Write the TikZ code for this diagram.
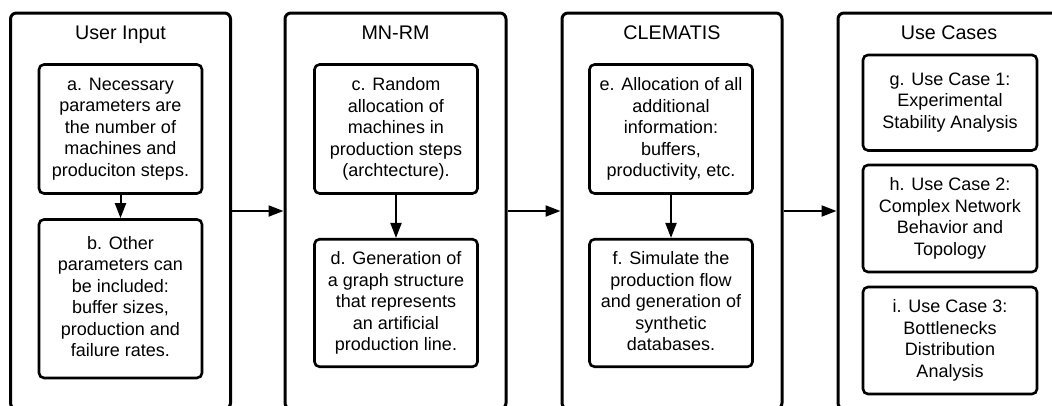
\documentclass[tikz,border=0pt]{standalone}
\usepackage{fontspec}
\setmainfont{Liberation Sans}
\usetikzlibrary{arrows.meta}
\begin{document}
\begin{tikzpicture}[x=1pt,y=-1pt,
  panel/.style={draw, line width=3pt, rounded corners=6pt, inner sep=0pt,
    minimum height=396pt},
  % uniform line boxes: fixed ascent on the first line, fixed depth on the last
  stagebox/.style={draw, line width=2.6pt, rounded corners=5pt, inner sep=0pt,
    align=center, minimum width=163pt,
    font=\fontsize{18}{21.5}\selectfont,
    execute at begin node={\rule{0pt}{17.5pt}},
    execute at end node={\rule[-4pt]{0pt}{4pt}}},
  ttl/.style={anchor=base, inner sep=0pt, font=\fontsize{19.7}{23}\selectfont},
  arr/.style={line width=2pt, -{Triangle[length=15pt,width=11pt]}}]
\useasboundingbox (0,0) rectangle (1052,405);
\clip (0,0) rectangle (1052,405);

% stage panels
\node[panel, minimum width=220pt] (p1) at (120.5,211) {};
\node[panel, minimum width=221pt] (p2) at (395.5,211) {};
\node[panel, minimum width=220pt] (p3) at (672,211) {};
\node[panel, minimum width=222pt] (p4) at (949,211) {};

% panel titles
\node[ttl] (t1) at (120.5,39.5) {User Input};
\node[ttl] (t2) at (395.5,39.5) {MN-RM};
\node[ttl] (t3) at (672,39.5) {CLEMATIS};
\node[ttl] (t4) at (949,39.5) {Use Cases};

% user input
\node[stagebox, minimum height=129pt] (a) at (120.5,129)
  {a. Necessary\\parameters are\\the number of\\machines and\\produciton steps.};
\node[stagebox, minimum height=158.5pt] (b) at (120.5,298.7)
  {b. Other\\parameters can\\be included:\\buffer sizes,\\production and\\failure rates.};

% MN-RM
\node[stagebox, minimum height=129pt] (c) at (396,129)
  {c. Random\\allocation of\\machines in\\production steps\\(archtecture).};
\node[stagebox, minimum height=127.5pt] (d) at (396,303)
  {d. Generation of\\a graph structure\\that represents\\an artificial\\production line.};

% CLEMATIS
\node[stagebox, minimum height=129pt] (e) at (671,129)
  {e. Allocation of all\\additional\\information:\\buffers,\\productivity, etc.};
\node[stagebox, minimum height=127.5pt] (f) at (671,303)
  {f. Simulate the\\production flow\\and generation of\\synthetic\\databases.};

% use cases
\node[stagebox, minimum width=174pt, minimum height=95.5pt] (g) at (950,102.7)
  {g. Use Case 1:\\Experimental\\Stability Analysis};
\node[stagebox, minimum width=174pt, minimum height=107pt] (h) at (950,218.5)
  {h. Use Case 2:\\Complex Network\\Behavior and\\Topology};
\node[stagebox, minimum width=174pt, minimum height=107pt] (i) at (950,340.5)
  {i. Use Case 3:\\Bottlenecks\\Distribution\\Analysis};

% flow
\draw[arr] (a) -- (b);
\draw[arr] (c) -- (d);
\draw[arr] (e) -- (f);
\draw[arr] (p1) -- (p2);
\draw[arr] (p2) -- (p3);
\draw[arr] (p3) -- (p4);
\end{tikzpicture}
\end{document}
